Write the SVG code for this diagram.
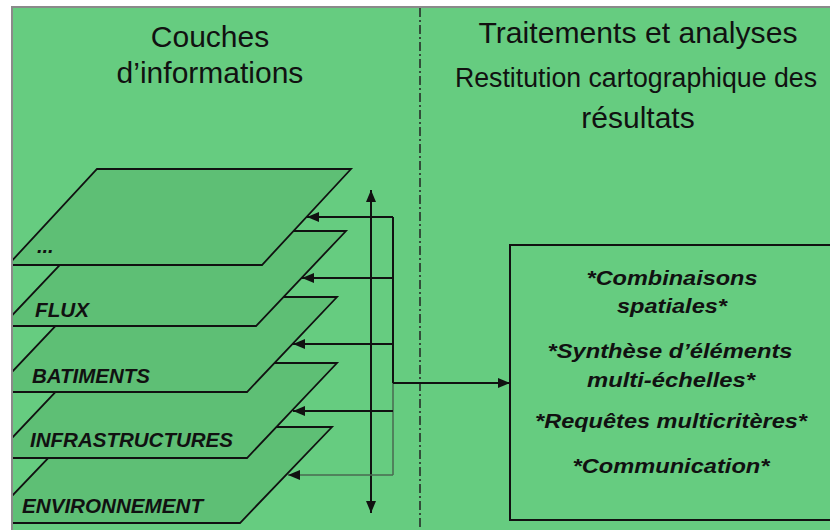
<svg xmlns="http://www.w3.org/2000/svg" width="830" height="530" viewBox="0 0 830 530">
<defs>
<style>
.hdr{font-family:"Liberation Sans",Arial,sans-serif;font-size:30px;fill:#111;text-anchor:middle}
.lbl{font-family:"Liberation Sans",Arial,sans-serif;font-size:20px;font-weight:bold;font-style:italic;fill:#111}
.box{font-family:"Liberation Sans",Arial,sans-serif;font-size:21px;font-weight:bold;font-style:italic;fill:#111;text-anchor:middle}
.layer{fill:#5ebf75;stroke:#111;stroke-width:1.8;stroke-linejoin:miter}
.con{fill:none;stroke:#111;stroke-width:2}
.light{fill:none;stroke:#4a6a50;stroke-width:1.5}
</style>
<marker id="ah" viewBox="0 0 12 10" refX="12" refY="5" markerWidth="12" markerHeight="10" markerUnits="userSpaceOnUse" orient="auto-start-reverse">
<path d="M0,0 L12,5 L0,10 Z" fill="#111"/>
</marker>
<clipPath id="area"><rect x="13" y="8" width="817" height="522"/></clipPath>
</defs>
<rect x="0" y="0" width="830" height="530" fill="#ffffff"/>
<rect x="12" y="7" width="818" height="523" fill="#66cc80"/>
<path d="M12,530 V7 H830" fill="none" stroke="#8a8a8a" stroke-width="2"/>
<line x1="420" y1="8" x2="420" y2="530" stroke="#222" stroke-width="1.5" stroke-dasharray="9 3 2 3"/>

<g id="header-left">
<text class="hdr" x="210" y="47">Couches</text>
<text class="hdr" x="210" y="83">d’informations</text>
</g>
<g id="header-right">
<text class="hdr" x="638" y="43" textLength="319" lengthAdjust="spacingAndGlyphs">Traitements et analyses</text>
<text class="hdr" x="636" y="87" style="font-size:27px" textLength="362" lengthAdjust="spacingAndGlyphs">Restitution cartographique des</text>
<text class="hdr" x="638" y="128">résultats</text>
</g>

<g clip-path="url(#area)">
<g id="layer-environnement">
<polygon class="layer" points="78,427 332,427 240,523 -14,523"/>
<text class="lbl" x="22" y="513" textLength="181" lengthAdjust="spacingAndGlyphs">ENVIRONNEMENT</text>
</g>
<g id="layer-infrastructures">
<polygon class="layer" points="83,363 337,363 247,458 -7,458"/>
<text class="lbl" x="30" y="447" textLength="203" lengthAdjust="spacingAndGlyphs">INFRASTRUCTURES</text>
</g>
<g id="layer-batiments">
<polygon class="layer" points="83,297 337,297 247,392 -7,392"/>
<text class="lbl" x="32" y="383" textLength="118" lengthAdjust="spacingAndGlyphs">BATIMENTS</text>
</g>
<g id="layer-flux">
<polygon class="layer" points="92,231 346,231 256,326 2,326"/>
<text class="lbl" x="35" y="317" textLength="54" lengthAdjust="spacingAndGlyphs">FLUX</text>
</g>
<g id="layer-etc">
<polygon class="layer" points="97,169 351,169 262,265 8,265"/>
<text class="lbl" x="37" y="253">...</text>
</g>
</g>

<g id="traitements">
<rect x="510" y="245" width="340" height="275" fill="none" stroke="#111" stroke-width="2"/>
<text class="box" x="672" y="285" textLength="171" lengthAdjust="spacingAndGlyphs">*Combinaisons</text>
<text class="box" x="672" y="313" textLength="110" lengthAdjust="spacingAndGlyphs">spatiales*</text>
<text class="box" x="670" y="358" textLength="245" lengthAdjust="spacingAndGlyphs">*Synthèse d’éléments</text>
<text class="box" x="671" y="387" textLength="168" lengthAdjust="spacingAndGlyphs">multi-échelles*</text>
<text class="box" x="671" y="428" textLength="272" lengthAdjust="spacingAndGlyphs">*Requêtes multicritères*</text>
<text class="box" x="671" y="473" textLength="197" lengthAdjust="spacingAndGlyphs">*Communication*</text>
</g>

<g id="connectors">
<line class="con" x1="371" y1="190" x2="371" y2="513" stroke-width="1.6" marker-start="url(#ah)" marker-end="url(#ah)"/>
<path class="con" d="M393,217 V383"/>
<path class="light" d="M393,383 V475"/>
<path class="con" d="M393,217 H307" marker-end="url(#ah)"/>
<path class="con" d="M393,278 H302" marker-end="url(#ah)"/>
<path class="con" d="M393,344 H293" marker-end="url(#ah)"/>
<path class="con" d="M393,411 H293" marker-end="url(#ah)"/>
<path class="light" d="M393,475 H288" marker-end="url(#ah)"/>
<path class="con" d="M393,383 H510" marker-end="url(#ah)"/>
</g>
</svg>
